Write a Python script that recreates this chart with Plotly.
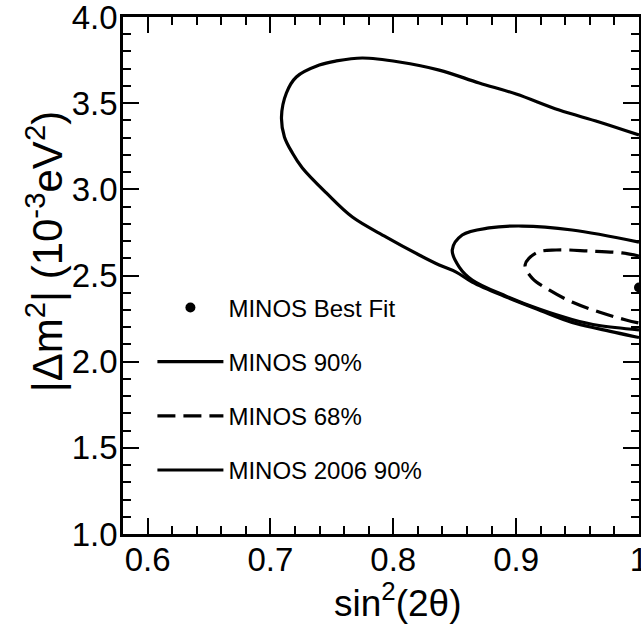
import plotly.graph_objects as go

# MINOS 2006 90% contour (outer)
c2006_x = [1.0, 0.9675, 0.935, 0.9, 0.8699, 0.8374, 0.8049, 0.7748, 0.7537, 0.7398,
           0.7211, 0.713, 0.709, 0.7114, 0.7179, 0.726, 0.7455, 0.7667, 0.7943,
           0.8211, 0.8374, 0.8512, 0.8642, 0.8919, 0.9187, 0.9455, 0.9675, 1.0]
c2006_y = [3.315, 3.391, 3.46, 3.553, 3.617, 3.692, 3.739, 3.762, 3.745, 3.721,
           3.652, 3.559, 3.42, 3.304, 3.211, 3.124, 2.979, 2.839, 2.723,
           2.619, 2.561, 2.52, 2.462, 2.375, 2.30, 2.228, 2.19, 2.14]

# MINOS 90% contour
c90_x = [1.0, 0.9455, 0.9049, 0.878, 0.8561, 0.848, 0.8537, 0.8642, 0.8919,
         0.9187, 0.9455, 0.9675, 1.0]
c90_y = [2.694, 2.764, 2.787, 2.776, 2.735, 2.648, 2.549, 2.474, 2.38,
         2.305, 2.245, 2.21, 2.185]

# MINOS 68% contour
c68_x = [1.0, 0.9862, 0.9593, 0.9325, 0.9163, 0.9073, 0.913, 0.9268, 0.9455,
         0.9675, 0.9894, 1.0]
c68_y = [2.613, 2.631, 2.642, 2.648, 2.631, 2.561, 2.485, 2.416, 2.346,
         2.288, 2.242, 2.224]

# Best fit
best_x = [1.0]
best_y = [2.43]

FONT = "Liberation Sans, Arial, Helvetica, sans-serif"

fig = go.Figure()
fig.add_trace(go.Scatter(x=best_x, y=best_y, mode="markers", name="MINOS Best Fit",
                         marker=dict(color="black", size=10), legendgroup="a"))
fig.add_trace(go.Scatter(x=c90_x, y=c90_y, mode="lines", name="MINOS 90%",
                         line=dict(color="black", width=3.2, shape="spline", smoothing=1.0),
                         legendgroup="b"))
fig.add_trace(go.Scatter(x=c68_x, y=c68_y, mode="lines", name="MINOS 68%",
                         line=dict(color="black", width=3.2, dash="18px,8px", shape="spline", smoothing=1.0),
                         legendgroup="c"))
fig.add_trace(go.Scatter(x=c2006_x, y=c2006_y, mode="lines", name="MINOS 2006 90%",
                         line=dict(color="black", width=3.2, shape="spline", smoothing=1.0),
                         legendgroup="d"))

axis_common = dict(showline=True, linecolor="black", linewidth=2.5, mirror="ticks",
                   ticks="inside", ticklen=16, tickwidth=2, tickcolor="black",
                   showgrid=False, zeroline=False, automargin=False,
                   ticklabeloverflow="allow",
                   tickfont=dict(family=FONT, size=33, color="black"))

fig.update_xaxes(range=[0.58, 1.0], dtick=0.1, tick0=0.6, ticklabelstandoff=-5,
                 minor=dict(dtick=0.02, ticks="inside", ticklen=8, tickwidth=2, tickcolor="black"),
                 **axis_common)
fig.update_yaxes(range=[1.0, 4.0], dtick=0.5, tick0=1.0, tickformat=".1f", ticklabelstandoff=-4,
                 minor=dict(dtick=0.1, ticks="inside", ticklen=8, tickwidth=2, tickcolor="black"),
                 **axis_common)

fig.update_layout(
    width=641, height=625,
    margin=dict(l=123, r=2, t=17, b=91),
    plot_bgcolor="white", paper_bgcolor="white",
    font=dict(family=FONT, color="black"),
    showlegend=True,
    legend=dict(x=0.057, y=0.481, xanchor="left", yanchor="top",
                bgcolor="rgba(0,0,0,0)", borderwidth=0,
                font=dict(family=FONT, size=24, color="black"),
                tracegroupgap=20, itemwidth=66),
    annotations=[
        dict(text="sin<sup>2</sup>(2θ)", xref="paper", yref="paper",
             x=0.533, y=0, yshift=-66, xanchor="center", yanchor="middle",
             showarrow=False, font=dict(family=FONT, size=37, color="black")),
        dict(text="|Δm<sup>2</sup>| (10<sup>-3</sup>eV<sup>2</sup>)", xref="paper", yref="paper",
             x=0, y=0.545, xshift=-78, xanchor="center", yanchor="middle", textangle=-90,
             showarrow=False, font=dict(family=FONT, size=42, color="black")),
    ],
)

fig.write_html("out.html", config={"displayModeBar": False},
               post_script="document.body.style.margin='0';document.body.style.overflow='hidden';")
